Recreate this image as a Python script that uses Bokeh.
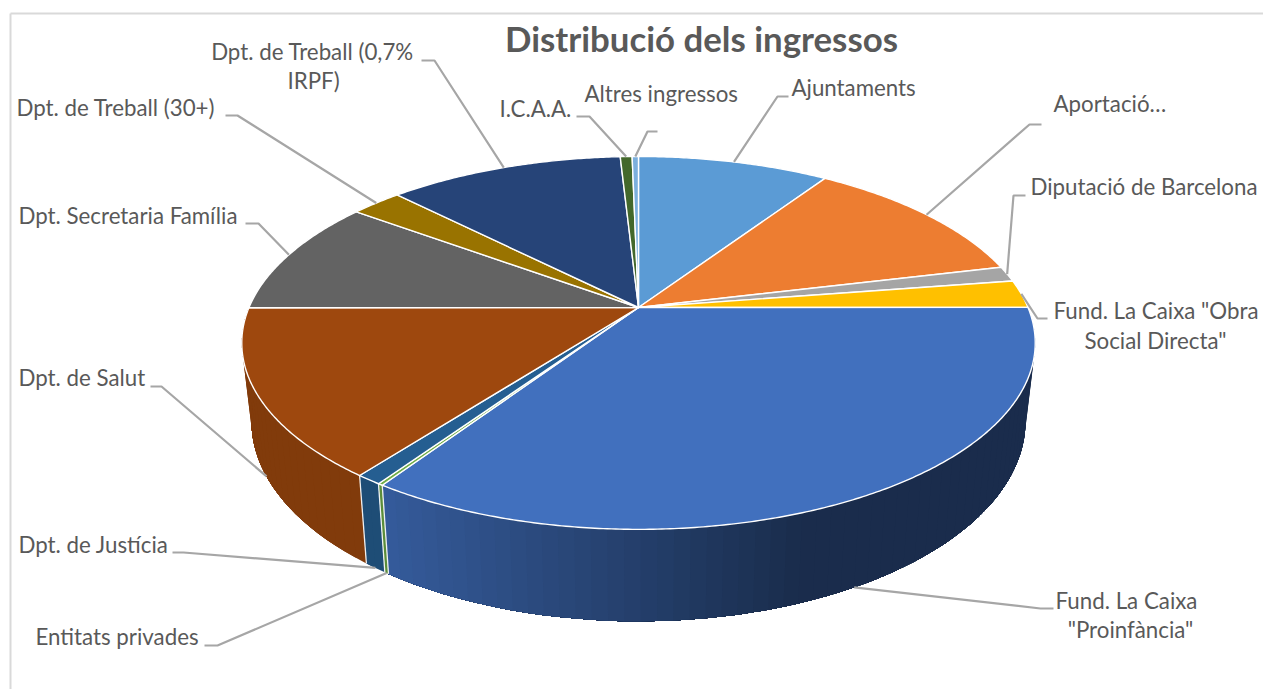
import numpy as np
from bokeh.plotting import figure
from bokeh.models import Range1d
from bokeh.core.properties import value
from bokeh.embed import file_html
from bokeh.resources import INLINE

# ---- data ----
title = "Distribució dels ingressos"
categories = ["Ajuntaments", "Aportació…", "Diputació de Barcelona",
              'Fund. La Caixa "Obra Social Directa"', 'Fund. La Caixa "Proinfància"',
              "Entitats privades", "Dpt. de Justícia", "Dpt. de Salut",
              "Dpt. Secretaria Família", "Dpt. de Treball (30+)",
              "Dpt. de Treball (0,7% IRPF)", "I.C.A.A.", "Altres ingressos"]
shares = [9.36, 11.89, 1.33, 2.42, 34.36, 0.17, 0.89, 14.58, 10.11, 2.50, 11.53, 0.58, 0.31]
colors = ["#5B9BD5", "#ED7D31", "#A5A5A5", "#FFC000", "#4170BE", "#70AD47", "#255E91",
          "#9E480E", "#636363", "#997300", "#264478", "#43682B", "#7CAFDD"]

# ---- layout: label rows (text, x, y, align) and leader elbows ----
label_rows = [
    ("Ajuntaments", 791, 87, "left"),
    ("Aportació…", 1053, 103, "left"),
    ("Diputació de Barcelona", 1030, 186, "left"),
    ('Fund. La Caixa "Obra', 1053, 310, "left"),
    ('Social Directa"', 1155, 340, "center"),
    ("Fund. La Caixa", 1126, 600, "center"),
    ('"Proinfància"', 1130, 629, "center"),
    ("Entitats privades", 35, 636, "left"),
    ("Dpt. de Justícia", 18, 544, "left"),
    ("Dpt. de Salut", 18, 377, "left"),
    ("Dpt. Secretaria Família", 18, 215, "left"),
    ("Dpt. de Treball (30+)", 16, 107, "left"),
    ("Dpt. de Treball (0,7%", 312, 51, "center"),
    ("IRPF)", 313, 80, "center"),
    ("I.C.A.A.", 499, 108, "left"),
    ("Altres ingressos", 584, 93, "left"),
]
# per slice: which rim the leader starts from, elbow point, end point
leaders = [
    ("top", (777, 96), (788, 96)),
    ("top", (1029, 124), (1041, 124)),
    ("top", (1013, 195), (1025, 195)),
    ("top", (1037, 318), (1047, 318)),
    ("bottom", (1040, 608), (1053, 608)),
    ("bottom", (217, 645), (204, 645)),
    ("bottom", (183, 552), (172, 552)),
    ("bottom", (161, 386), (150, 386)),
    ("top", (258, 223), (245, 223)),
    ("top", (237, 115), (225, 115)),
    ("top", (434, 60), (421, 60)),
    ("top", (589, 116), (576, 116)),
    ("top", (647, 131), (657, 131)),
]

# ---- perspective model of the pie ----
CX = 638.0
K = 0.19
TOP = dict(cy=307.0, a=179.7, b=389.5)
BOT = dict(cy=382.5, a=193.0, b=380.0)


def project(theta_deg, rim):
    t = np.radians(np.asarray(theta_deg, dtype=float))
    u, v = np.sin(t), np.cos(t)
    d = 1 + K * v
    return CX + rim["b"] * u / d, rim["cy"] - rim["a"] * v / d


def hex2rgb(h):
    return np.array([int(h[i:i + 2], 16) for i in (1, 3, 5)], dtype=float)


def shaded(h, f):
    r, g, b = np.clip(hex2rgb(h) * f, 0, 255).astype(int)
    return f"#{r:02x}{g:02x}{b:02x}"


edges = np.concatenate([[0], np.cumsum(shares)])
edges = edges / edges[-1] * 360.0

W, H = 1263, 689
p = figure(width=W, height=H, output_backend="svg", toolbar_location=None,
           x_range=Range1d(0, W), y_range=Range1d(H, 0),
           x_axis_location=None, y_axis_location=None, min_border=0,
           outline_line_color=None, background_fill_color="white",
           border_fill_color="white")
p.grid.visible = False

# chart frame
p.line([10, 10], [689, 13], line_color="#d9d9d9", line_width=2)
p.line([10, 1263], [13, 13], line_color="#d9d9d9", line_width=2)

# side wall: strips overlapping the next one, shade follows horizontal position
wx, wy, wc = [], [], []
STEP = 2.0
for i, col in enumerate(colors):
    a0, a1 = max(edges[i], 90.0), min(edges[i + 1], 270.0)
    if a1 <= a0:
        continue
    n = max(int(np.ceil((a1 - a0) / STEP)), 1)
    th = np.linspace(a0, a1, n + 1)
    dth = th[1] - th[0]
    for j in range(n):
        # strip runs from its own start to the end of the slice: later strips paint over it
        arc = np.arange(th[j], a1 + dth / 2, dth)
        tx, ty = project(arc, TOP)
        bx, by = project(arc, BOT)
        xm = project(th[j] + dth / 2, BOT)[0]
        f = float(np.interp(xm, [385, 800], [0.82, 0.40]))
        wx.append(np.concatenate([tx, bx[::-1]]).tolist())
        wy.append(np.concatenate([ty, by[::-1]]).tolist())
        wc.append(shaded(col, f))
p.patches(wx, wy, fill_color=wc, line_color=None)

# white vertical edges between wall pieces
for e in edges[1:-1]:
    if 90 < e < 270:
        tx, ty = project(e, TOP)
        bx, by = project(e, BOT)
        p.line([tx, bx], [ty, by], line_color="white", line_width=1.3, line_alpha=0.9)

# top faces
fx, fy = [], []
for i in range(len(colors)):
    n = max(int(np.ceil(edges[i + 1] - edges[i])) * 2, 2)
    th = np.linspace(edges[i], edges[i + 1], n + 1)
    x, y = project(th, TOP)
    fx.append(np.concatenate([[CX], x]).tolist())
    fy.append(np.concatenate([[TOP["cy"]], y]).tolist())
p.patches(fx, fy, fill_color=colors, line_color="white", line_width=1.4, line_join="round")

# leader lines
lx, ly = [], []
for i, (rim, elbow, end) in enumerate(leaders):
    mid = (edges[i] + edges[i + 1]) / 2
    sx, sy = project(mid, TOP if rim == "top" else BOT)
    lx.append([float(sx), elbow[0], end[0]])
    ly.append([float(sy), elbow[1], end[1]])
p.multi_line(lx, ly, line_color="#a6a6a6", line_width=2.2)

# labels
for txt, x, y, al in label_rows:
    p.text([x], [y], text=[txt], text_font=value("Lato"), text_font_size="22.3px",
           text_color="#595959", text_align=al, text_baseline="middle")
p.text([701], [38], text=[title], text_font=value("Lato"), text_font_size="34.8px",
       text_font_style="bold", text_color="#595959", text_align="center", text_baseline="middle")

open("out.html", "w").write(file_html(p, INLINE))
